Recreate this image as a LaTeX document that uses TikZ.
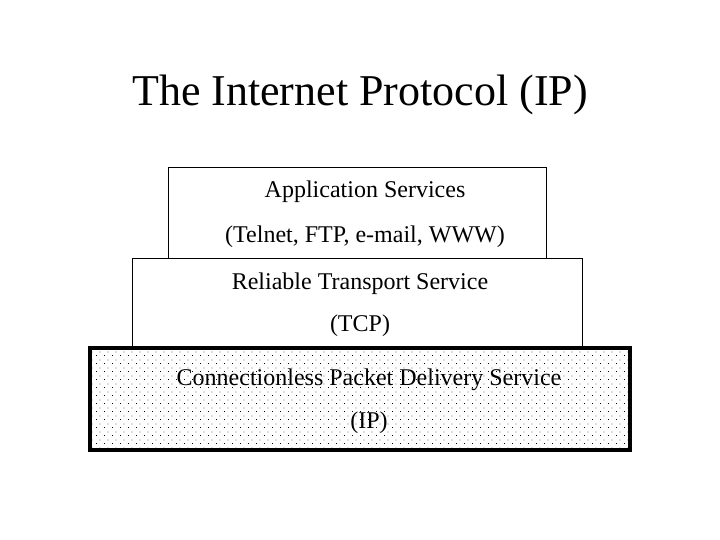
\documentclass[tikz,border=0pt]{standalone}
\usepackage{fontspec}
\setmainfont{Liberation Serif}
\usetikzlibrary{patterns.meta}
\pgfdeclarepattern{
  name=stagdots,
  type=uncolored,
  bottom left={\pgfpoint{0pt}{0pt}},
  top right={\pgfpoint{8pt}{8pt}},
  tile size={\pgfpoint{8pt}{8pt}},
  code={
    \pgfpathrectangle{\pgfpoint{0pt}{0pt}}{\pgfpoint{1pt}{1pt}}
    \pgfpathrectangle{\pgfpoint{4pt}{4pt}}{\pgfpoint{1pt}{1pt}}
    \pgfusepath{fill}
  }
}
\begin{document}
\begin{tikzpicture}[x=1pt,y=-1pt,
  layer/.style={draw, line width=1pt, inner sep=0pt, outer sep=0pt, anchor=north west, fill=white},
  lbl/.style={font=\fontsize{24}{28}\selectfont, inner sep=0pt}]
\useasboundingbox (0,0) rectangle (720,540);
\node[font=\fontsize{44}{52}\selectfont, inner sep=0pt] (title) at (360,95) {The Internet Protocol (IP)};
\node[layer, minimum width=378pt, minimum height=90pt] (app) at (168,168) {};
\node[layer, minimum width=450pt, minimum height=89pt] (tcp) at (132,258) {};
\node[layer, line width=3.5pt, minimum width=540pt, minimum height=102pt,
  pattern={stagdots}, pattern color=black] (ip) at (90,348) {};
\node[lbl] (a1) at (365,192) {Application Services};
\node[lbl] (a2) at (365,237) {(Telnet, FTP, e-mail, WWW)};
\node[lbl] (t1) at (360,284) {Reliable Transport Service};
\node[lbl] (t2) at (360,326) {(TCP)};
\node[lbl] (i1) at (369,380) {Connectionless Packet Delivery Service};
\node[lbl] (i2) at (369,423) {(IP)};
\end{tikzpicture}
\end{document}
